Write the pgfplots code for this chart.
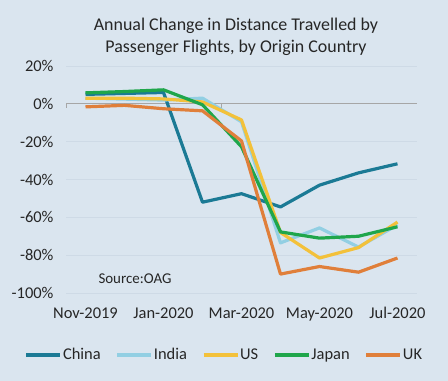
\documentclass[border=0pt]{standalone}
\usepackage{fontspec}
\setmainfont{Carlito}
\usepackage{pgfplots}
\pgfplotsset{compat=1.18}
\definecolor{bg}{RGB}{218,229,239}
\definecolor{gridc}{RGB}{206,218,230}
\definecolor{cChina}{RGB}{27,122,149}
\definecolor{cIndia}{RGB}{146,207,227}
\definecolor{cUS}{RGB}{243,193,58}
\definecolor{cJapan}{RGB}{31,166,75}
\definecolor{cUK}{RGB}{224,127,58}
\begin{document}
\begin{tikzpicture}
\fill[bg] (0,0) rectangle (448bp,381bp);
\node[align=center, font=\fontsize{18}{22}\selectfont, text=black!85] at (236bp,344bp) {Annual Change in Distance Travelled by\\Passenger Flights, by Origin Country};
\begin{axis}[
  at={(66bp,88bp)}, anchor=south west,
  scale only axis, width=351bp, height=227bp,
  xmin=-0.5, xmax=8.5, ymin=-100, ymax=20,
  axis line style={draw=none},
  xtick={0,2,4,6,8},
  xticklabels={Nov-2019,Jan-2020,Mar-2020,May-2020,Jul-2020},
  ytick={-100,-80,...,20},
  yticklabel={\pgfmathprintnumber{\tick}\%},
  /pgf/number format/assume math mode=true,
  tick style={draw=none},
  ymajorgrids, grid style={gridc, line width=0.8bp},
  tick label style={font=\fontsize{16.5}{19}\selectfont, text=black!85},
  yticklabel style={xshift=-9bp},
  xticklabel style={yshift=-11bp},
  every axis plot/.append style={line width=3.2bp, line join=round},
  legend columns=5,
  legend style={at={(0.45,-0.273)}, anchor=center, draw=none, fill=none,
    font=\fontsize{16.5}{19}\selectfont, text=black!85,
    nodes={inner sep=1bp},
    /tikz/every even column/.append style={column sep=14bp}},
  legend image code/.code={\draw[#1, line width=3.2bp] (0bp,0bp) -- (34bp,0bp);},
]
\draw[gray!70, line width=1bp] (axis cs:-0.5,0) -- (axis cs:8.5,0);
\draw[gray!70, line width=1bp] (axis cs:-0.5,0) -- (axis cs:-0.5,-2);
\draw[gray!70, line width=1bp] (axis cs:3.5,0) -- (axis cs:3.5,-2);
\addplot[cChina] coordinates {(0,5) (1,5.5) (2,6) (3,-52) (4,-47.5) (5,-54.5) (6,-43) (7,-36.5) (8,-31.7)};
\addlegendentry{China}
\addplot[cIndia] coordinates {(0,3) (1,2.5) (2,2) (3,3) (4,-9.5) (5,-73.5) (6,-65.6) (7,-75.7) (8,-64)};
\addlegendentry{India}
\addplot[cUS] coordinates {(0,3) (1,3) (2,2.6) (3,1) (4,-8.5) (5,-68) (6,-81.5) (7,-76) (8,-62.5)};
\addlegendentry{US}
\addplot[cJapan] coordinates {(0,5.8) (1,6.5) (2,7.4) (3,-0.5) (4,-22.7) (5,-67.7) (6,-71) (7,-70) (8,-65)};
\addlegendentry{Japan}
\addplot[cUK] coordinates {(0,-1.6) (1,-0.8) (2,-2.6) (3,-3.7) (4,-19.6) (5,-90) (6,-86) (7,-89) (8,-81.5)};
\addlegendentry{UK}
\node[font=\fontsize{15}{18}\selectfont, text=black!85] at (axis cs:1.27,-92.6) {Source:OAG};
\end{axis}
\end{tikzpicture}
\end{document}
